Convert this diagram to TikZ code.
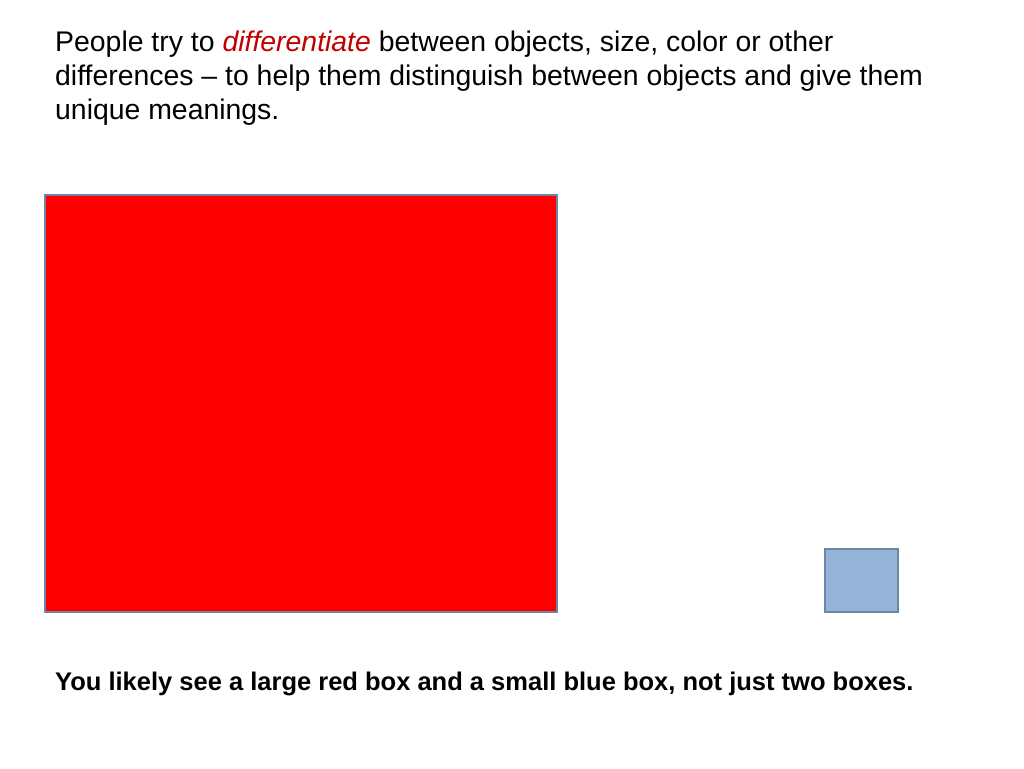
\documentclass[tikz,border=0pt]{standalone}
\usepackage{fontspec}
\setmainfont{Liberation Sans}
\definecolor{boxred}{HTML}{FF0000}
\definecolor{boxblue}{HTML}{95B3D7}
\definecolor{blueedge}{HTML}{6B87A6}
\definecolor{wordred}{HTML}{C00000}
\begin{document}
\begin{tikzpicture}[x=1pt,y=1pt,
  line/.style={anchor=base west,inner sep=0pt,font=\fontsize{28.4}{34}\selectfont},
  boxedge/.style={draw=blueedge,line width=1.8pt,inner sep=0pt,anchor=south west}]
\useasboundingbox (0,0) rectangle (1024,768);
\node[line] (l1) at (55,716) {People try to \textcolor{wordred}{\itshape differentiate} between objects, size, color or other};
\node[line] (l2) at (55,682) {differences -- to help them distinguish between objects and give them};
\node[line] (l3) at (55,648) {unique meanings.};
\node[boxedge,fill=boxred,minimum width=512pt,minimum height=417pt] (big) at (44,155) {};
\node[boxedge,fill=boxblue,minimum width=73pt,minimum height=63pt] (small) at (824,155) {};
\node[anchor=base west,inner sep=0pt,font=\fontsize{25.5}{30}\selectfont\bfseries] (cap) at (55,78) {You likely see a large red box and a small blue box, not just two boxes.};
\end{tikzpicture}
\end{document}
